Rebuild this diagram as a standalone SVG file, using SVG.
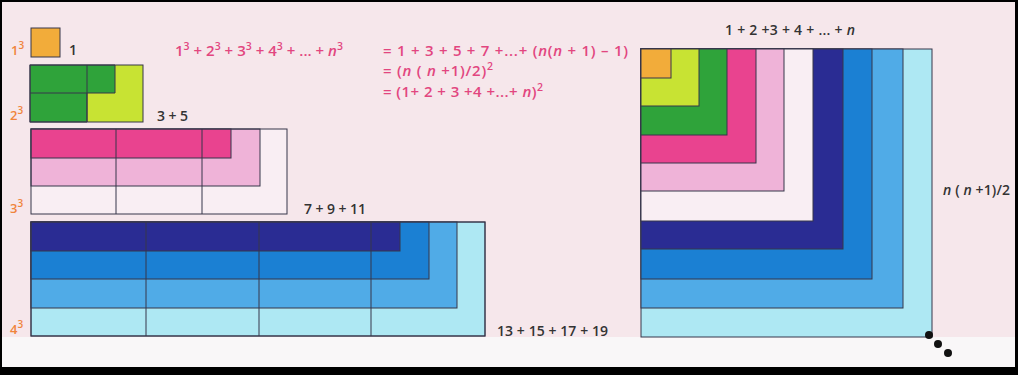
<svg xmlns="http://www.w3.org/2000/svg" width="1018" height="375" viewBox="0 0 1018 375">
<defs>
<style>
.ln{stroke:#36364a;stroke-width:1;fill:none}
.bx{stroke:#36364a;stroke-width:1}
.or{fill:#f2ac3a}.lg{fill:#c8e333}.dg{fill:#2fa33a}.pk{fill:#e9438f}.lp{fill:#efb3d8}.wh{fill:#f9eef3}
.nv{fill:#2a2c93}.bl{fill:#1b80d3}.lb{fill:#50abe7}.cy{fill:#aee8f3}
.lab{font-family:"Open Sans","Liberation Sans",sans-serif;font-weight:600;font-size:13px;fill:#f0843c}
.blk{font-family:"Open Sans","Liberation Sans",sans-serif;font-weight:600;font-size:14px;fill:#333}
.frm{font-family:"Open Sans","Liberation Sans",sans-serif;font-weight:600;font-size:15px;fill:#e2467f}
.it{font-style:italic}
.sp{font-size:10.5px}
.lab .sp{font-size:10px}
</style>
</defs>
<rect x="0" y="0" width="1018" height="375" fill="#000"/>
<rect x="2" y="2" width="1013" height="335" fill="#f6e7eb"/>
<rect x="2" y="337" width="1013" height="30" fill="#f9f7f8"/>

<g id="cube1">
<rect class="or bx" x="31" y="28" width="29" height="29"/>
<text class="lab" x="11" y="55">1<tspan class="sp" dy="-6">3</tspan></text>
<text class="blk" x="69" y="55">1</text>
</g>

<g id="cube2">
<rect class="lg" x="30" y="65" width="113" height="57"/>
<path class="dg bx" d="M30,65 H115 V93 H87 V122 H30 Z"/>
<path class="ln" d="M87,65 V122 M30,93 H87"/>
<rect class="ln" x="30" y="65" width="113" height="57"/>
<text class="lab" x="10" y="120">2<tspan class="sp" dy="-6">3</tspan></text>
<text class="blk" x="157" y="121" textLength="31" lengthAdjust="spacing">3 + 5</text>
</g>

<g id="cube3">
<rect class="wh" x="31" y="129" width="256" height="85"/>
<rect class="lp bx" x="31" y="129" width="229" height="57"/>
<rect class="pk bx" x="31" y="129" width="200" height="29"/>
<path class="ln" d="M116,129 V214 M202,129 V214"/>
<rect class="ln" x="31" y="129" width="256" height="85"/>
<text class="lab" x="10" y="213">3<tspan class="sp" dy="-6">3</tspan></text>
<text class="blk" x="304" y="214" textLength="62" lengthAdjust="spacing">7 + 9 + 11</text>
</g>

<g id="cube4">
<rect class="cy bx" x="31" y="222" width="454" height="114"/>
<rect class="lb bx" x="31" y="222" width="426" height="86"/>
<rect class="bl bx" x="31" y="222" width="398" height="57"/>
<rect class="nv bx" x="31" y="222" width="369" height="29"/>
<path class="ln" d="M146,222 V336 M259,222 V336 M371,222 V336"/>
<rect class="ln" x="31" y="222" width="454" height="114"/>
<text class="lab" x="10" y="334">4<tspan class="sp" dy="-6">3</tspan></text>
<text class="blk" x="497" y="336" textLength="111" lengthAdjust="spacing">13 + 15 + 17 + 19</text>
</g>

<g id="formula">
<text class="frm" x="175" y="56" textLength="168" lengthAdjust="spacing">1<tspan class="sp" dy="-6">3</tspan><tspan dy="6"> + 2</tspan><tspan class="sp" dy="-6">3</tspan><tspan dy="6"> + 3</tspan><tspan class="sp" dy="-6">3</tspan><tspan dy="6"> + 4</tspan><tspan class="sp" dy="-6">3</tspan><tspan dy="6"> + ... + </tspan><tspan class="it">n</tspan><tspan class="sp" dy="-6">3</tspan></text>
<text class="frm" x="383" y="56" textLength="245" lengthAdjust="spacing">= 1 + 3 + 5 + 7 +...+ (<tspan class="it">n</tspan>(<tspan class="it">n</tspan> + 1) – 1)</text>
<text class="frm" x="383" y="76" textLength="110" lengthAdjust="spacing">= (<tspan class="it">n</tspan> ( <tspan class="it">n</tspan> +1)/2)<tspan class="sp" dy="-6">2</tspan></text>
<text class="frm" x="383" y="97" textLength="160" lengthAdjust="spacing">= (1+ 2 + 3 +4 +...+ <tspan class="it">n</tspan>)<tspan class="sp" dy="-6">2</tspan></text>
</g>

<g id="square">
<rect class="cy bx" x="641" y="49" width="291" height="288"/>
<rect class="lb bx" x="641" y="49" width="262" height="259"/>
<rect class="bl bx" x="641" y="49" width="231" height="230"/>
<rect class="nv bx" x="641" y="49" width="202" height="200"/>
<rect class="wh bx" x="641" y="49" width="172" height="172"/>
<rect class="lp bx" x="641" y="49" width="143" height="142"/>
<rect class="pk bx" x="641" y="49" width="115" height="114"/>
<rect class="dg bx" x="641" y="49" width="86" height="86"/>
<rect class="lg bx" x="641" y="49" width="58" height="57"/>
<rect class="or bx" x="641" y="49" width="30" height="29"/>
<text class="blk" x="725" y="35" textLength="130" lengthAdjust="spacing">1 + 2 +3 + 4 + ... + <tspan class="it">n</tspan></text>
<text class="blk" x="943" y="195" textLength="67" lengthAdjust="spacing"><tspan class="it">n</tspan> ( <tspan class="it">n</tspan> +1)/2</text>
</g>

<g id="dots" fill="#111">
<circle cx="929" cy="335" r="4"/>
<circle cx="938" cy="344" r="4"/>
<circle cx="948" cy="353" r="4"/>
</g>
</svg>
